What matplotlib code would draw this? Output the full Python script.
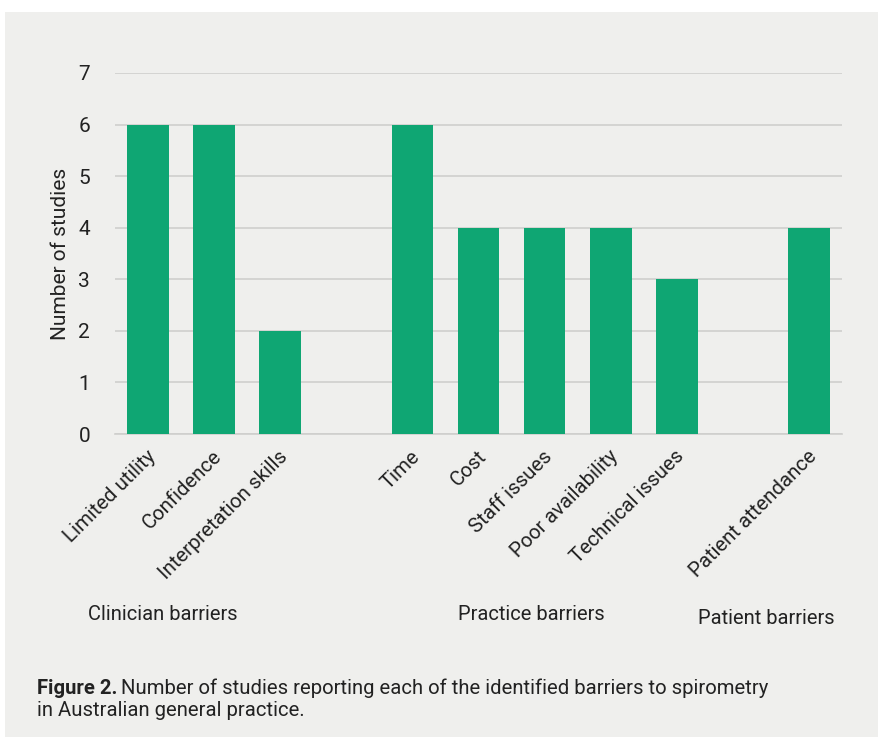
import matplotlib
matplotlib.use('Agg')
import matplotlib.pyplot as plt
from matplotlib.patches import Rectangle
import matplotlib.transforms as mtransforms

plt.rcParams['font.family'] = ['Roboto', 'DejaVu Sans']

# data
clinician = ['Limited utility', 'Confidence', 'Interpretation skills']
clinician_vals = [6, 6, 2]
practice = ['Time', 'Cost', 'Staff issues', 'Poor availability', 'Technical issues']
practice_vals = [6, 4, 4, 4, 3]
patient = ['Patient attendance']
patient_vals = [4]
group_names = ['Clinician barriers', 'Practice barriers', 'Patient barriers']
yticks = [0, 1, 2, 3, 4, 5, 6, 7]

bar_color = '#0fa673'
bg = '#efefed'
grid_color = '#cfcfcd'
text_color = '#222222'

# positions: one empty slot between groups
groups = [(clinician, clinician_vals), (practice, practice_vals), (patient, patient_vals)]
labels, values, positions = [], [], []
pos = 0
for names, vals in groups:
    for n, v in zip(names, vals):
        labels.append(n)
        values.append(v)
        positions.append(pos)
        pos += 1
    pos += 1
xmax = positions[-1] + 0.5

W, H = 879, 739
fig = plt.figure(figsize=(W / 100, H / 100), dpi=100, facecolor='white')
fig.patches.append(Rectangle((5 / W, 2 / H), 1 - 5 / W, (737 - 12) / H,
                             transform=fig.transFigure, facecolor=bg,
                             edgecolor='none', zorder=-5))

ax = fig.add_axes([115 / W, 1 - 434 / H, (842 - 115) / W, (434 - 73) / H])
ax.set_facecolor(bg)
ax.bar(positions, values, width=0.63, color=bar_color, zorder=3)
ax.set_xlim(-0.5, xmax)
ax.set_ylim(0, 7)
ax.set_yticks(yticks)
ax.yaxis.grid(True, color=grid_color, linewidth=1.2, zorder=0)
ax.set_axisbelow(True)
for s in ['top', 'right', 'left']:
    ax.spines[s].set_visible(False)
ax.spines['bottom'].set_color(grid_color)
ax.spines['bottom'].set_linewidth(1.2)
ax.tick_params(axis='both', length=0, labelsize=15, colors=text_color)
ax.tick_params(axis='y', pad=18)
ax.set_xticks(positions)
ax.set_xticklabels(labels, rotation=45, ha='right', va='top',
                   rotation_mode='anchor', fontsize=14.7)
offset = mtransforms.ScaledTranslation(-2 / 100, -8 / 100, fig.dpi_scale_trans)
for lab in ax.get_xticklabels():
    lab.set_transform(lab.get_transform() + offset)
ax.set_ylabel('Number of studies', fontsize=15, color=text_color, labelpad=6)

# group labels
fig.text(163 / W, 1 - 615 / H, group_names[0], ha='center', va='center',
         fontsize=14.5, color=text_color)
fig.text(531 / W, 1 - 615 / H, group_names[1], ha='center', va='center',
         fontsize=14.5, color=text_color)
fig.text(766 / W, 1 - 618 / H, group_names[2], ha='center', va='center',
         fontsize=14.5, color=text_color)

# caption
cap_bold = fig.text(37 / W, 1 - 688 / H, 'Figure 2.', ha='left', va='center',
                    fontsize=14.6, fontweight='bold', color=text_color)
fig.canvas.draw()
bb = cap_bold.get_window_extent()
fig.text((bb.x1 + 4) / W, 1 - 688 / H,
         'Number of studies reporting each of the identified barriers to spirometry',
         ha='left', va='center', fontsize=14.6, color=text_color)
fig.text(37 / W, 1 - 711 / H, 'in Australian general practice.', ha='left',
         va='center', fontsize=14.6, color=text_color)

fig.savefig('out.png', dpi=100, facecolor='white')
